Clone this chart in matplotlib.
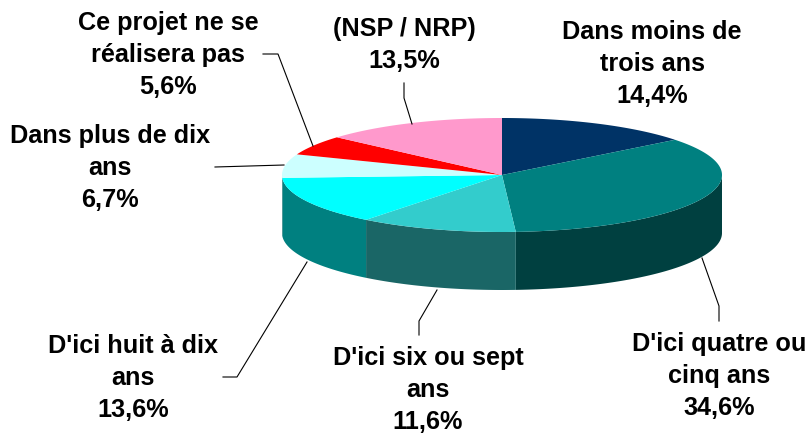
import numpy as np
import matplotlib
matplotlib.use("Agg")
import matplotlib.pyplot as plt
from matplotlib.patches import Polygon

labels = ["Dans moins de\ntrois ans\n14,4%", "D'ici quatre ou\ncinq ans\n34,6%",
          "D'ici six ou sept\nans\n11,6%", "D'ici huit à dix\nans\n13,6%",
          "Dans plus de dix\nans\n6,7%", "Ce projet ne se\nréalisera pas\n5,6%",
          "(NSP / NRP)\n13,5%"]
values = [14.4, 34.6, 11.6, 13.6, 6.7, 5.6, 13.5]
top_colors = ["#003366", "#008080", "#33CCCC", "#00FFFF", "#CCFFFF", "#FF0000", "#FF99CC"]
side_colors = ["#001A33", "#004040", "#1A6666", "#008080", "#668080", "#800000", "#804D66"]
label_xy = [(652, 64), (719, 376), (428, 390), (133, 378), (110, 168), (168, 55), (404, 45)]
leaders = [None,
           [(702, 258), (719, 306), (719, 321)],
           [(437, 290), (419, 321), (419, 335)],
           [(307, 262), (237, 377), (223, 377)],
           [(284, 165), (215, 167)],
           [(313, 146), (278, 54), (263, 54)],
           [(412, 124), (404, 98), (404, 83)]]

W, H = 810, 434
CX, CY, RX, RY, DEPTH = 502, 175, 220, 57, 58

fig = plt.figure(figsize=(W / 100, H / 100), dpi=100)
ax = fig.add_axes([0, 0, 1, 1])
ax.set_xlim(0, W)
ax.set_ylim(H, 0)
ax.axis("off")


def rim(a, b):
    t = np.radians(np.linspace(a, b, max(2, int(abs(b - a) * 2) + 1)))
    return np.column_stack([CX + RX * np.sin(t), CY - RY * np.cos(t)])


edges = np.cumsum([0] + values) / sum(values) * 360
for i, col in enumerate(side_colors):
    a, b = max(edges[i], 90), min(edges[i + 1], 270)
    if a >= b:
        continue
    r = rim(a, b)
    low = r[::-1] + [0, DEPTH]
    ax.add_patch(Polygon(np.vstack([r, low]), closed=True, fc=col, ec="none", zorder=2))
for i, col in enumerate(top_colors):
    r = rim(edges[i], edges[i + 1])
    ax.add_patch(Polygon(np.vstack([[CX, CY], r]), closed=True, fc=col, ec="none", zorder=3))

for pts in leaders:
    if pts:
        xs, ys = zip(*pts)
        ax.plot(xs, ys, color="black", lw=0.8, zorder=4)

for s, (x, y) in zip(labels, label_xy):
    ax.text(x, y, s, ha="center", va="center", fontsize=18.2, fontweight="bold",
            family="Liberation Sans", linespacing=1.41, color="black", zorder=5)

fig.savefig("out.png", dpi=100)
